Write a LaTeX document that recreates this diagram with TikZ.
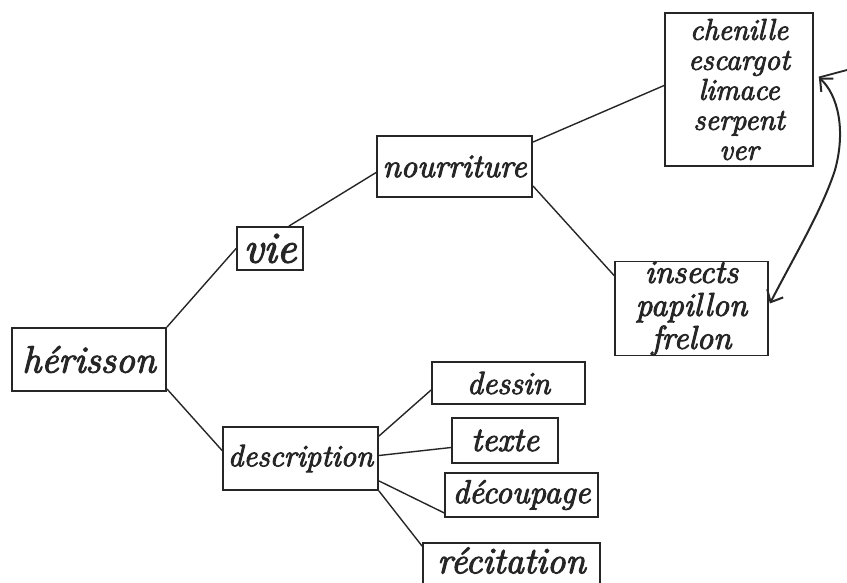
\documentclass[tikz,border=0pt]{standalone}
\usepackage{fontspec}
\usetikzlibrary{arrows.meta}
\newfontfamily\handfont{Latin Modern Roman}[FakeBold=3]
\definecolor{ink}{HTML}{262626}
\tikzset{
  box/.style={draw=ink, line width=1.8pt, rectangle, inner sep=0pt, text=ink, align=center},
  fs/.style={font={\handfont\fontsize{#1}{#1}\selectfont\itshape}},
  link/.style={draw=ink, line width=1.4pt},
  dbl/.style={draw=ink, line width=2pt, {Straight Barb[length=10pt,width=18pt]}-{Straight Barb[length=10pt,width=18pt]}}
}
\begin{document}
\begin{tikzpicture}[x=1pt,y=-1pt]
\useasboundingbox (0,0) rectangle (847,583);
\begin{scope}
\clip (0,0) rectangle (847,583);
\node[box, fs=38, minimum width=154, minimum height=63] (her) at (89,359.5) {hérisson};
\node[box, fs=44, minimum width=66, minimum height=43] (vie) at (270,248.5) {vie};
\node[box, fs=33, minimum width=155, minimum height=61] (nour) at (454.5,166.5) {nourriture};
\node[box, fs=30, minimum width=148, minimum height=153] (chen) at (739,89.5) {\baselineskip=26.5pt chenille\\escargot\\limace\\serpent\\ver};
\node[box, fs=33, minimum width=153, minimum height=91] (ins) at (691.5,308.5) {\baselineskip=25pt insects\\papillon\\frelon};
\node[box, fs=31, minimum width=155, minimum height=63] (desc) at (300.5,458.5) {description};
\node[box, fs=32, minimum width=153, minimum height=42] (dess) at (508.5,383) {dessin};
\node[box, fs=34, minimum width=106, minimum height=45] (tex) at (505,440.5) {texte};
\node[box, fs=33, minimum width=153, minimum height=44] (dec) at (521.5,495) {découpage};
\node[box, fs=37, minimum width=177, minimum height=57] (rec) at (511.5,571.5) {\raisebox{11pt}[\height][\depth]{récitation}};

\draw[link] (her.north east) -- (vie.west);
\draw[link] ([xshift=-15pt]vie.north east) -- ([yshift=-6pt]nour.west);
\draw[link] ([yshift=-7pt]nour.north east) -- ([yshift=4pt]chen.west);
\draw[link] ([yshift=12pt]nour.south east) -- ([yshift=-15pt]ins.north west);
\draw[link] ([yshift=3pt]her.south east) -- ([yshift=8pt]desc.west);
\draw[link] ([yshift=-10pt]desc.north east) -- ([yshift=-7pt]dess.west);
\draw[link] ([yshift=3pt]desc.east) -- ([yshift=-7pt]tex.west);
\draw[link] ([yshift=10pt]desc.south east) -- ([yshift=5pt]dec.south west);
\draw[link] (desc.south east) -- ([yshift=-4pt]rec.north west);

\coordinate (topTip) at ([shift={(5pt,12pt)}]chen.east);
\coordinate (botTip) at ([shift={(1pt,5pt)}]ins.east);
\coordinate (tail) at (847,70);
\draw[dbl] (topTip) .. controls (838,95) and (846,130) .. (835,170)
  .. controls (822,210) and (795,255) .. (botTip);
\draw[link, line width=1.8pt] (topTip) -- (tail);
\end{scope}
\end{tikzpicture}
\end{document}
